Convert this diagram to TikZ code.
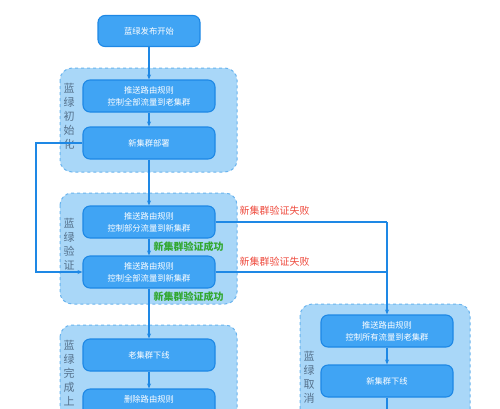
\documentclass[tikz,border=0pt]{standalone}
\usepackage{fontspec}
\setmainfont{Noto Sans CJK SC}
\usetikzlibrary{arrows.meta,positioning}
\definecolor{boxfill}{HTML}{40A4F4}
\definecolor{boxline}{HTML}{1E88E5}
\definecolor{grpfill}{HTML}{A9D7F8}
\definecolor{grpline}{HTML}{6AB4EE}
\definecolor{grptext}{HTML}{55718C}
\definecolor{okgreen}{HTML}{33A832}
\definecolor{failred}{HTML}{EE4B3E}

\begin{document}
\begin{tikzpicture}[x=1pt,y=-1pt,>={Stealth[length=5pt,width=4pt]},
  line width=1.1pt,
  step box/.style={rectangle,rounded corners=7pt,fill=boxfill,draw=boxline,
    text=white,minimum width=132pt,minimum height=32pt,align=center,
    font=\fontsize{8.3}{12}\selectfont},
  group box/.style={rectangle,rounded corners=12pt,fill=grpfill,draw=grpline,
    dashed,line width=1pt},
  group label/.style={text=grptext,align=center,anchor=north,inner sep=0pt,
    font=\fontsize{11}{14}\selectfont},
  ok label/.style={text=okgreen,anchor=west,inner sep=0pt,
    font=\fontsize{10}{12}\selectfont\bfseries},
  fail label/.style={text=failred,anchor=west,inner sep=0pt,
    font=\fontsize{10}{12}\selectfont},
  flow/.style={draw=boxline,line width=1.1pt}]

  \useasboundingbox (0,0) rectangle (500,408);
  \clip (0,0) rectangle (500,408);

  % groups
  \draw[group box] (60,68) rectangle (237,172);
  \draw[group box] (60,193) rectangle (237,304);
  \draw[group box] (60,325) rectangle (237,460);
  \draw[group box] (300,304) rectangle (470,460);

  \node[group label] (init) at (69,83) {蓝\\绿\\初\\始\\化};
  \node[group label] (check) at (69,218) {蓝\\绿\\验\\证};
  \node[group label] (done) at (69,340) {蓝\\绿\\完\\成\\上};
  \node[group label] (cancel) at (309,351) {蓝\\绿\\取\\消};

  % steps
  \node[step box,minimum width=102pt,minimum height=31pt] (start) at (149,31) {蓝绿发布开始};
  \node[step box] (route old) at (149,96) {推送路由规则\\控制全部流量到老集群};
  \node[step box] (deploy) at (149,143) {新集群部署};
  \node[step box] (route part) at (149,222) {推送路由规则\\控制部分流量到新集群};
  \node[step box] (route new) at (149,272) {推送路由规则\\控制全部流量到新集群};
  \node[step box] (old off) at (149,355) {老集群下线};
  \node[step box] (del route) at (149,405) {删除路由规则\\ };
  \node[step box] (route back) at (387,331) {推送路由规则\\控制所有流量到老集群};
  \node[step box] (new off) at (387,381) {新集群下线};
  \coordinate (left turn) at (36,143);
  \coordinate (right turn) at (387,222);
  \coordinate (below) at (387,420);

  \draw[flow,->] (start) -- (route old);
  \draw[flow,->] (route old) -- (deploy);
  \draw[flow,->] (deploy) -- (route part);
  \draw[flow,->] (route part) -- (route new);
  \draw[flow,->] (route new) -- (old off);
  \draw[flow,->] (old off) -- (del route);
  \draw[flow,->] (deploy.west) -- (left turn) |- (route new.west);
  \draw[flow] (route part.east) -- (right turn);
  \draw[flow] (route new.east) -- (route new.east -| right turn);
  \draw[flow,->] (right turn) -- (route back);
  \draw[flow,->] (route back) -- (new off);
  \draw[flow] (new off) -- (below);

  % results
  \node[fail label] (fail1) at (239,211) {新集群验证失败};
  \node[fail label] (fail2) at (239,262) {新集群验证失败};
  \node[ok label] (ok1) at (153,247) {新集群验证成功};
  \node[ok label] (ok2) at (153,297) {新集群验证成功};

\end{tikzpicture}
\end{document}
